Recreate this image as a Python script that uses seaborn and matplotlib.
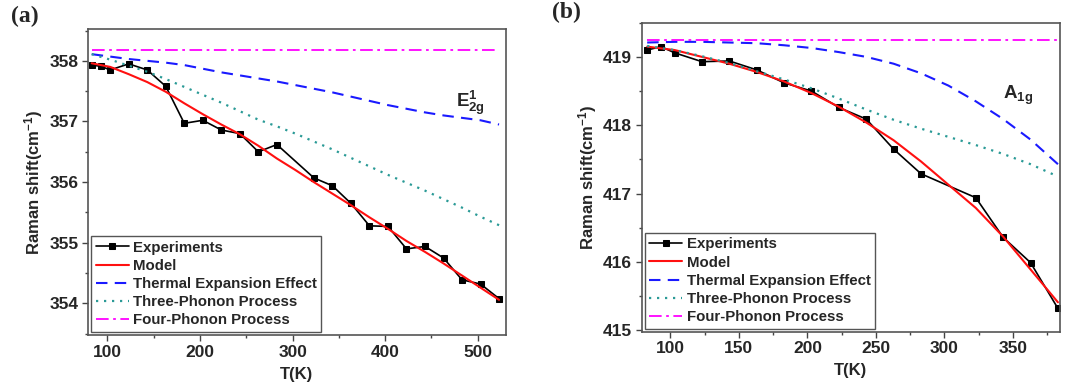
import numpy as np
import pandas as pd
import matplotlib
matplotlib.use('Agg')
import matplotlib.pyplot as plt
import seaborn as sns
from matplotlib.ticker import MultipleLocator

sns.set_style('ticks')
plt.rcParams['font.family'] = ['Liberation Sans', 'DejaVu Sans']
plt.rcParams['mathtext.fontset'] = 'custom'
plt.rcParams['mathtext.rm'] = 'Liberation Sans'
plt.rcParams['mathtext.it'] = 'Liberation Sans:italic'
plt.rcParams['mathtext.bf'] = 'Liberation Sans:bold'

# ---- panel (a): E2g mode ----
t_exp_a = [83, 93, 103, 123, 143, 163, 183, 203, 223, 243, 263, 283,
           323, 343, 363, 383, 403, 423, 443, 463, 483, 503, 523]
exp_a = [357.93, 357.91, 357.85, 357.95, 357.85, 357.58, 356.97, 357.02,
         356.86, 356.80, 356.50, 356.62, 356.07, 355.94, 355.65, 355.28,
         355.27, 354.90, 354.94, 354.75, 354.39, 354.32, 354.08]

t_fit_a = [83, 103, 123, 143, 163, 183, 203, 223, 243, 263, 283, 303,
           323, 343, 363, 383, 403, 423, 443, 463, 483, 503, 523]
model_a = [357.96, 357.90, 357.78, 357.65, 357.49, 357.30, 357.12, 356.95,
           356.79, 356.60, 356.39, 356.20, 356.00, 355.81, 355.62, 355.42,
           355.23, 355.03, 354.85, 354.66, 354.46, 354.26, 354.06]
thermal_a = [358.11, 358.07, 358.03, 358.00, 357.97, 357.93, 357.87, 357.81,
             357.76, 357.71, 357.66, 357.60, 357.54, 357.48, 357.41, 357.34,
             357.27, 357.21, 357.15, 357.10, 357.06, 357.02, 356.95]
three_a = [358.11, 358.02, 357.92, 357.82, 357.70, 357.57, 357.44, 357.31,
           357.17, 357.03, 356.92, 356.80, 356.67, 356.54, 356.40, 356.26,
           356.12, 355.99, 355.86, 355.72, 355.58, 355.43, 355.29]
t_four_a = [83, 523]
four_a = [358.18, 358.18]

# ---- panel (b): A1g mode ----
t_exp_b = [83, 93, 103, 123, 143, 163, 183, 203, 223, 243, 263, 283,
           323, 343, 363, 383]
exp_b = [419.10, 419.15, 419.06, 418.93, 418.94, 418.81, 418.62, 418.50,
         418.26, 418.09, 417.65, 417.29, 416.94, 416.36, 415.99, 415.32]

t_fit_b = [83, 103, 123, 143, 163, 183, 203, 223, 243, 263, 283, 303,
           323, 343, 363, 383]
model_b = [419.15, 419.10, 419.00, 418.90, 418.78, 418.64, 418.47, 418.27,
           418.04, 417.78, 417.47, 417.13, 416.79, 416.37, 415.89, 415.41]
thermal_b = [419.21, 419.22, 419.22, 419.21, 419.20, 419.17, 419.13, 419.07,
             419.00, 418.90, 418.76, 418.58, 418.35, 418.09, 417.79, 417.43]
three_b = [419.16, 419.10, 419.01, 418.91, 418.79, 418.67, 418.54, 418.39,
           418.23, 418.08, 417.95, 417.83, 417.71, 417.58, 417.43, 417.25]
t_four_b = [83, 385]
four_b = [419.24, 419.24]

labels = ['Experiments', 'Model', 'Thermal Expansion Effect',
          'Three-Phonon Process', 'Four-Phonon Process']

W, H = 1073, 389
fig = plt.figure(figsize=(W / 100, H / 100), dpi=100)
ax_a = fig.add_axes([88 / W, 1 - 335 / H, (506 - 88) / W, (335 - 29.3) / H])
ax_b = fig.add_axes([641.7 / W, 1 - 331.7 / H, (1060 - 641.7) / W, (331.7 - 22.7) / H])


def draw_panel(ax, t_exp, exp, t_fit, model, thermal, three, t_four, four):
    sns.lineplot(x=t_exp, y=exp, ax=ax, color='black', lw=1.2, marker='s',
                 markersize=5, markeredgecolor='black', errorbar=None,
                 sort=False, label=labels[0])
    sns.lineplot(x=t_fit, y=model, ax=ax, color='#ff1010', lw=1.5,
                 errorbar=None, sort=False, label=labels[1])
    sns.lineplot(x=t_fit, y=thermal, ax=ax, color='#1a1aff', lw=1.5,
                 linestyle=(0, (5.5, 3.5)), errorbar=None, sort=False,
                 label=labels[2])
    sns.lineplot(x=t_fit, y=three, ax=ax, color='#2a9a96', lw=1.6,
                 linestyle=(0, (1, 2.6)), errorbar=None, sort=False,
                 label=labels[3])
    sns.lineplot(x=t_four, y=four, ax=ax, color='#ff00ff', lw=1.3,
                 linestyle=(0, (7, 2.5, 1.5, 2.5)), errorbar=None,
                 sort=False, label=labels[4])

    leg = ax.legend(loc='lower left', bbox_to_anchor=(0, 0), borderaxespad=0.2,
                    frameon=True, fancybox=False, edgecolor='#555555',
                    framealpha=1, prop=dict(weight='bold', size=10.8),
                    handlelength=2.2, handletextpad=0.3, labelspacing=0.28,
                    borderpad=0.3)
    leg.get_frame().set_linewidth(1.0)

    for s in ax.spines.values():
        s.set_visible(True)
        s.set_color('#555555')
        s.set_linewidth(1.2)
    ax.tick_params(which='major', direction='out', length=4, width=1,
                   color='#444444', labelsize=12.5, pad=3)
    ax.tick_params(which='minor', direction='out', length=2.5, width=1,
                   color='#444444')
    ax.set_xlabel('T(K)', fontsize=12, fontweight='bold', labelpad=5)
    ax.set_ylabel(r'Raman shift(cm$^{\mathbf{-1}}$)', fontsize=12,
                  fontweight='bold', labelpad=3)


draw_panel(ax_a, t_exp_a, exp_a, t_fit_a, model_a, thermal_a, three_a,
           t_four_a, four_a)
ax_a.set_xlim(79, 530.5)
ax_a.set_ylim(353.48, 358.52)
ax_a.xaxis.set_major_locator(MultipleLocator(100))
ax_a.xaxis.set_minor_locator(MultipleLocator(50))
ax_a.yaxis.set_major_locator(MultipleLocator(1))
ax_a.yaxis.set_minor_locator(MultipleLocator(0.5))
ax_a.text(491.7, 357.30, r'$\mathbf{E^{1}_{2g}}$', ha='center', va='center',
          fontsize=13.5)

draw_panel(ax_b, t_exp_b, exp_b, t_fit_b, model_b, thermal_b, three_b,
           t_four_b, four_b)
ax_b.set_xlim(79, 384.5)
ax_b.set_ylim(414.98, 419.5)
ax_b.xaxis.set_major_locator(MultipleLocator(50))
ax_b.xaxis.set_minor_locator(MultipleLocator(25))
ax_b.yaxis.set_major_locator(MultipleLocator(1))
ax_b.yaxis.set_minor_locator(MultipleLocator(0.5))
ax_b.text(353.7, 418.44, r'$\mathbf{A_{1g}}$', ha='center', va='center',
          fontsize=13.5)

for ax in (ax_a, ax_b):
    for lab in ax.get_xticklabels() + ax.get_yticklabels():
        lab.set_fontweight('bold')

fig.text(11 / W, 1 - 6 / H, '(a)', ha='left', va='top', fontsize=17,
         fontweight='bold', family='Liberation Serif')
fig.text(552 / W, 1 - 2 / H, '(b)', ha='left', va='top', fontsize=17,
         fontweight='bold', family='Liberation Serif')

fig.savefig('out.png', dpi=100)
